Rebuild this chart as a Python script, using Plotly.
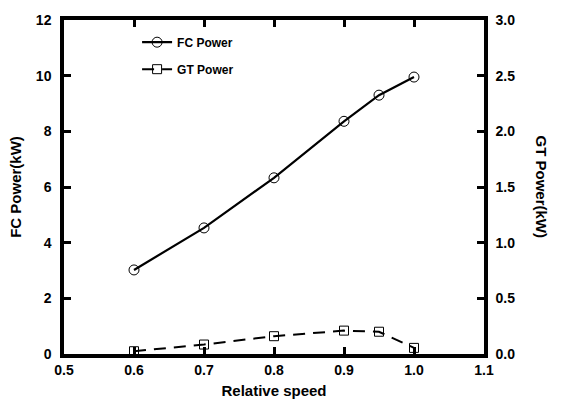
import plotly.graph_objects as go

# Relative shaft speed and the two power outputs
relative_speed = [0.6, 0.7, 0.8, 0.9, 0.95, 1.0]
fc_power_kw = [3.02, 4.53, 6.33, 8.36, 9.30, 9.95]
gt_power_kw = [0.025, 0.085, 0.16, 0.21, 0.20, 0.055]

font_family = "Liberation Sans, Arial, sans-serif"
black = "#000000"

fig = go.Figure()
fig.add_trace(go.Scatter(
    x=relative_speed, y=fc_power_kw, name="FC Power", legendgroup="fc",
    mode="lines+markers", line=dict(color=black, width=2.2),
    marker=dict(symbol="circle-open", size=10, color=black, line=dict(width=1)),
))
fig.add_trace(go.Scatter(
    x=relative_speed, y=gt_power_kw, name="GT Power", legendgroup="gt",
    mode="lines+markers", yaxis="y2",
    line=dict(color=black, width=2, dash="12px,8px"),
    marker=dict(symbol="square-open", size=9, color=black, line=dict(width=1)),
))

axis_common = dict(
    showline=True, linecolor=black, linewidth=3.5, showgrid=False, zeroline=False,
    ticks="inside", ticklen=7, tickwidth=3, tickcolor=black,
    tickfont=dict(family=font_family, size=14, color=black, weight="bold"),
)

fig.update_layout(
    width=563, height=410,
    margin=dict(l=64, r=79, t=14, b=55),
    paper_bgcolor="white", plot_bgcolor="white",
    font=dict(family=font_family, color=black),
    xaxis=dict(range=[0.5, 1.1], dtick=0.1, tickformat=".1f", mirror="ticks",
               title=dict(text="Relative speed", standoff=10,
                          font=dict(size=15, weight="bold")),
               **axis_common),
    yaxis=dict(range=[0, 12], dtick=2, ticklabelstandoff=6,
               title=dict(text="FC Power(kW)", standoff=12,
                          font=dict(size=15, weight="bold")),
               **axis_common),
    yaxis2=dict(range=[0, 3], dtick=0.5, tickformat=".1f", overlaying="y",
                side="right", ticklabelstandoff=5, **axis_common),
    legend=dict(x=0.174, y=0.977, xanchor="left", yanchor="top",
                bgcolor="rgba(0,0,0,0)", traceorder="grouped", tracegroupgap=8,
                font=dict(family=font_family, size=12, color=black, weight="bold")),
    annotations=[dict(
        text="GT Power(kW)", textangle=90, xref="paper", yref="paper",
        x=1.0, y=0.5, xshift=68, showarrow=False,
        font=dict(family=font_family, size=15, color=black, weight="bold"),
    )],
)

fig.write_html("out.html")
